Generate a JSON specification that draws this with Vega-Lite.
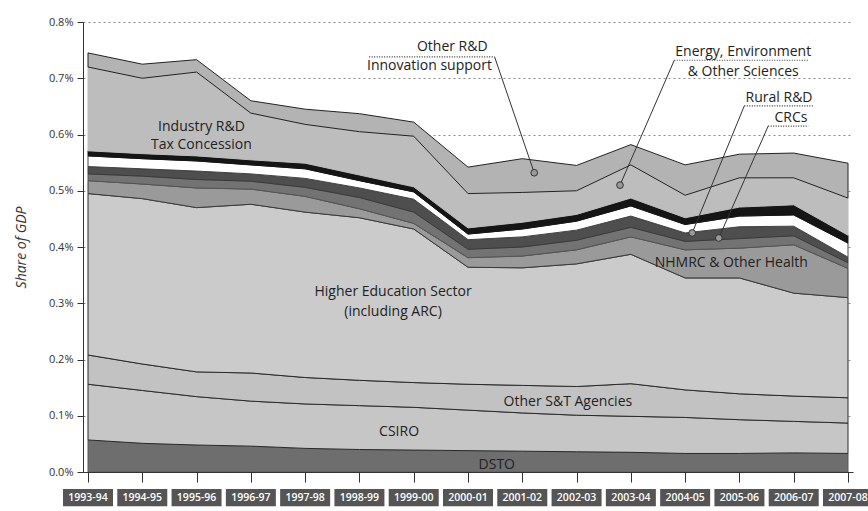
{
  "$schema": "https://vega.github.io/schema/vega-lite/v6.json",
  "width": 770,
  "height": 450,
  "autosize": "none",
  "padding": {"left": 83, "top": 22, "right": 15, "bottom": 39},
  "background": "white",
  "config": {"font": "Open Sans", "view": {"stroke": null}},
  "datasets": {
    "stacking": [
      {"series":"DSTO","stackOrder":1},
      {"series":"CSIRO","stackOrder":2},
      {"series":"Other S&T Agencies","stackOrder":3},
      {"series":"Higher Education Sector (including ARC)","stackOrder":4},
      {"series":"NHMRC & Other Health","stackOrder":5},
      {"series":"CRCs","stackOrder":6},
      {"series":"Rural R&D","stackOrder":7},
      {"series":"Other Science & Research","stackOrder":8},
      {"series":"Business Programs","stackOrder":9},
      {"series":"Energy, Environment & Other Sciences","stackOrder":10},
      {"series":"Industry R&D Tax Concession","stackOrder":11},
      {"series":"Other R&D & Innovation support","stackOrder":12}
    ],
    "funding": [
      {"start":1993,"year":"1993-94","series":"DSTO","value":0.057},
      {"start":1994,"year":"1994-95","series":"DSTO","value":0.051},
      {"start":1995,"year":"1995-96","series":"DSTO","value":0.048},
      {"start":1996,"year":"1996-97","series":"DSTO","value":0.046},
      {"start":1997,"year":"1997-98","series":"DSTO","value":0.042},
      {"start":1998,"year":"1998-99","series":"DSTO","value":0.040},
      {"start":1999,"year":"1999-00","series":"DSTO","value":0.039},
      {"start":2000,"year":"2000-01","series":"DSTO","value":0.038},
      {"start":2001,"year":"2001-02","series":"DSTO","value":0.037},
      {"start":2002,"year":"2002-03","series":"DSTO","value":0.036},
      {"start":2003,"year":"2003-04","series":"DSTO","value":0.035},
      {"start":2004,"year":"2004-05","series":"DSTO","value":0.033},
      {"start":2005,"year":"2005-06","series":"DSTO","value":0.033},
      {"start":2006,"year":"2006-07","series":"DSTO","value":0.034},
      {"start":2007,"year":"2007-08","series":"DSTO","value":0.033},
      {"start":1993,"year":"1993-94","series":"CSIRO","value":0.099},
      {"start":1994,"year":"1994-95","series":"CSIRO","value":0.094},
      {"start":1995,"year":"1995-96","series":"CSIRO","value":0.086},
      {"start":1996,"year":"1996-97","series":"CSIRO","value":0.080},
      {"start":1997,"year":"1997-98","series":"CSIRO","value":0.079},
      {"start":1998,"year":"1998-99","series":"CSIRO","value":0.078},
      {"start":1999,"year":"1999-00","series":"CSIRO","value":0.076},
      {"start":2000,"year":"2000-01","series":"CSIRO","value":0.072},
      {"start":2001,"year":"2001-02","series":"CSIRO","value":0.068},
      {"start":2002,"year":"2002-03","series":"CSIRO","value":0.065},
      {"start":2003,"year":"2003-04","series":"CSIRO","value":0.064},
      {"start":2004,"year":"2004-05","series":"CSIRO","value":0.064},
      {"start":2005,"year":"2005-06","series":"CSIRO","value":0.060},
      {"start":2006,"year":"2006-07","series":"CSIRO","value":0.056},
      {"start":2007,"year":"2007-08","series":"CSIRO","value":0.054},
      {"start":1993,"year":"1993-94","series":"Other S&T Agencies","value":0.052},
      {"start":1994,"year":"1994-95","series":"Other S&T Agencies","value":0.047},
      {"start":1995,"year":"1995-96","series":"Other S&T Agencies","value":0.044},
      {"start":1996,"year":"1996-97","series":"Other S&T Agencies","value":0.050},
      {"start":1997,"year":"1997-98","series":"Other S&T Agencies","value":0.047},
      {"start":1998,"year":"1998-99","series":"Other S&T Agencies","value":0.045},
      {"start":1999,"year":"1999-00","series":"Other S&T Agencies","value":0.044},
      {"start":2000,"year":"2000-01","series":"Other S&T Agencies","value":0.046},
      {"start":2001,"year":"2001-02","series":"Other S&T Agencies","value":0.049},
      {"start":2002,"year":"2002-03","series":"Other S&T Agencies","value":0.051},
      {"start":2003,"year":"2003-04","series":"Other S&T Agencies","value":0.058},
      {"start":2004,"year":"2004-05","series":"Other S&T Agencies","value":0.049},
      {"start":2005,"year":"2005-06","series":"Other S&T Agencies","value":0.046},
      {"start":2006,"year":"2006-07","series":"Other S&T Agencies","value":0.045},
      {"start":2007,"year":"2007-08","series":"Other S&T Agencies","value":0.045},
      {"start":1993,"year":"1993-94","series":"Higher Education Sector (including ARC)","value":0.287},
      {"start":1994,"year":"1994-95","series":"Higher Education Sector (including ARC)","value":0.294},
      {"start":1995,"year":"1995-96","series":"Higher Education Sector (including ARC)","value":0.292},
      {"start":1996,"year":"1996-97","series":"Higher Education Sector (including ARC)","value":0.300},
      {"start":1997,"year":"1997-98","series":"Higher Education Sector (including ARC)","value":0.294},
      {"start":1998,"year":"1998-99","series":"Higher Education Sector (including ARC)","value":0.289},
      {"start":1999,"year":"1999-00","series":"Higher Education Sector (including ARC)","value":0.273},
      {"start":2000,"year":"2000-01","series":"Higher Education Sector (including ARC)","value":0.208},
      {"start":2001,"year":"2001-02","series":"Higher Education Sector (including ARC)","value":0.209},
      {"start":2002,"year":"2002-03","series":"Higher Education Sector (including ARC)","value":0.218},
      {"start":2003,"year":"2003-04","series":"Higher Education Sector (including ARC)","value":0.230},
      {"start":2004,"year":"2004-05","series":"Higher Education Sector (including ARC)","value":0.199},
      {"start":2005,"year":"2005-06","series":"Higher Education Sector (including ARC)","value":0.206},
      {"start":2006,"year":"2006-07","series":"Higher Education Sector (including ARC)","value":0.183},
      {"start":2007,"year":"2007-08","series":"Higher Education Sector (including ARC)","value":0.178},
      {"start":1993,"year":"1993-94","series":"NHMRC & Other Health","value":0.023},
      {"start":1994,"year":"1994-95","series":"NHMRC & Other Health","value":0.026},
      {"start":1995,"year":"1995-96","series":"NHMRC & Other Health","value":0.035},
      {"start":1996,"year":"1996-97","series":"NHMRC & Other Health","value":0.027},
      {"start":1997,"year":"1997-98","series":"NHMRC & Other Health","value":0.028},
      {"start":1998,"year":"1998-99","series":"NHMRC & Other Health","value":0.016},
      {"start":1999,"year":"1999-00","series":"NHMRC & Other Health","value":0.010},
      {"start":2000,"year":"2000-01","series":"NHMRC & Other Health","value":0.017},
      {"start":2001,"year":"2001-02","series":"NHMRC & Other Health","value":0.021},
      {"start":2002,"year":"2002-03","series":"NHMRC & Other Health","value":0.025},
      {"start":2003,"year":"2003-04","series":"NHMRC & Other Health","value":0.031},
      {"start":2004,"year":"2004-05","series":"NHMRC & Other Health","value":0.050},
      {"start":2005,"year":"2005-06","series":"NHMRC & Other Health","value":0.053},
      {"start":2006,"year":"2006-07","series":"NHMRC & Other Health","value":0.086},
      {"start":2007,"year":"2007-08","series":"NHMRC & Other Health","value":0.052},
      {"start":1993,"year":"1993-94","series":"CRCs","value":0.012},
      {"start":1994,"year":"1994-95","series":"CRCs","value":0.014},
      {"start":1995,"year":"1995-96","series":"CRCs","value":0.015},
      {"start":1996,"year":"1996-97","series":"CRCs","value":0.014},
      {"start":1997,"year":"1997-98","series":"CRCs","value":0.016},
      {"start":1998,"year":"1998-99","series":"CRCs","value":0.020},
      {"start":1999,"year":"1999-00","series":"CRCs","value":0.020},
      {"start":2000,"year":"2000-01","series":"CRCs","value":0.015},
      {"start":2001,"year":"2001-02","series":"CRCs","value":0.016},
      {"start":2002,"year":"2002-03","series":"CRCs","value":0.017},
      {"start":2003,"year":"2003-04","series":"CRCs","value":0.017},
      {"start":2004,"year":"2004-05","series":"CRCs","value":0.015},
      {"start":2005,"year":"2005-06","series":"CRCs","value":0.017},
      {"start":2006,"year":"2006-07","series":"CRCs","value":0.016},
      {"start":2007,"year":"2007-08","series":"CRCs","value":0.010},
      {"start":1993,"year":"1993-94","series":"Rural R&D","value":0.013},
      {"start":1994,"year":"1994-95","series":"Rural R&D","value":0.013},
      {"start":1995,"year":"1995-96","series":"Rural R&D","value":0.015},
      {"start":1996,"year":"1996-97","series":"Rural R&D","value":0.013},
      {"start":1997,"year":"1997-98","series":"Rural R&D","value":0.016},
      {"start":1998,"year":"1998-99","series":"Rural R&D","value":0.017},
      {"start":1999,"year":"1999-00","series":"Rural R&D","value":0.023},
      {"start":2000,"year":"2000-01","series":"Rural R&D","value":0.017},
      {"start":2001,"year":"2001-02","series":"Rural R&D","value":0.018},
      {"start":2002,"year":"2002-03","series":"Rural R&D","value":0.018},
      {"start":2003,"year":"2003-04","series":"Rural R&D","value":0.020},
      {"start":2004,"year":"2004-05","series":"Rural R&D","value":0.015},
      {"start":2005,"year":"2005-06","series":"Rural R&D","value":0.021},
      {"start":2006,"year":"2006-07","series":"Rural R&D","value":0.017},
      {"start":2007,"year":"2007-08","series":"Rural R&D","value":0.010},
      {"start":1993,"year":"1993-94","series":"Other Science & Research","value":0.019},
      {"start":1994,"year":"1994-95","series":"Other Science & Research","value":0.018},
      {"start":1995,"year":"1995-96","series":"Other Science & Research","value":0.018},
      {"start":1996,"year":"1996-97","series":"Other Science & Research","value":0.016},
      {"start":1997,"year":"1997-98","series":"Other Science & Research","value":0.017},
      {"start":1998,"year":"1998-99","series":"Other Science & Research","value":0.013},
      {"start":1999,"year":"1999-00","series":"Other Science & Research","value":0.013},
      {"start":2000,"year":"2000-01","series":"Other Science & Research","value":0.010},
      {"start":2001,"year":"2001-02","series":"Other Science & Research","value":0.014},
      {"start":2002,"year":"2002-03","series":"Other Science & Research","value":0.016},
      {"start":2003,"year":"2003-04","series":"Other Science & Research","value":0.018},
      {"start":2004,"year":"2004-05","series":"Other Science & Research","value":0.015},
      {"start":2005,"year":"2005-06","series":"Other Science & Research","value":0.019},
      {"start":2006,"year":"2006-07","series":"Other Science & Research","value":0.020},
      {"start":2007,"year":"2007-08","series":"Other Science & Research","value":0.025},
      {"start":1993,"year":"1993-94","series":"Business Programs","value":0.009},
      {"start":1994,"year":"1994-95","series":"Business Programs","value":0.009},
      {"start":1995,"year":"1995-96","series":"Business Programs","value":0.009},
      {"start":1996,"year":"1996-97","series":"Business Programs","value":0.009},
      {"start":1997,"year":"1997-98","series":"Business Programs","value":0.010},
      {"start":1998,"year":"1998-99","series":"Business Programs","value":0.010},
      {"start":1999,"year":"1999-00","series":"Business Programs","value":0.009},
      {"start":2000,"year":"2000-01","series":"Business Programs","value":0.011},
      {"start":2001,"year":"2001-02","series":"Business Programs","value":0.012},
      {"start":2002,"year":"2002-03","series":"Business Programs","value":0.012},
      {"start":2003,"year":"2003-04","series":"Business Programs","value":0.014},
      {"start":2004,"year":"2004-05","series":"Business Programs","value":0.012},
      {"start":2005,"year":"2005-06","series":"Business Programs","value":0.016},
      {"start":2006,"year":"2006-07","series":"Business Programs","value":0.018},
      {"start":2007,"year":"2007-08","series":"Business Programs","value":0.014},
      {"start":1993,"year":"1993-94","series":"Energy, Environment & Other Sciences","value":0.020},
      {"start":1994,"year":"1994-95","series":"Energy, Environment & Other Sciences","value":0.020},
      {"start":1995,"year":"1995-96","series":"Energy, Environment & Other Sciences","value":0.020},
      {"start":1996,"year":"1996-97","series":"Energy, Environment & Other Sciences","value":0.020},
      {"start":1997,"year":"1997-98","series":"Energy, Environment & Other Sciences","value":0.021},
      {"start":1998,"year":"1998-99","series":"Energy, Environment & Other Sciences","value":0.022},
      {"start":1999,"year":"1999-00","series":"Energy, Environment & Other Sciences","value":0.023},
      {"start":2000,"year":"2000-01","series":"Energy, Environment & Other Sciences","value":0.024},
      {"start":2001,"year":"2001-02","series":"Energy, Environment & Other Sciences","value":0.025},
      {"start":2002,"year":"2002-03","series":"Energy, Environment & Other Sciences","value":0.026},
      {"start":2003,"year":"2003-04","series":"Energy, Environment & Other Sciences","value":0.028},
      {"start":2004,"year":"2004-05","series":"Energy, Environment & Other Sciences","value":0.028},
      {"start":2005,"year":"2005-06","series":"Energy, Environment & Other Sciences","value":0.029},
      {"start":2006,"year":"2006-07","series":"Energy, Environment & Other Sciences","value":0.030},
      {"start":2007,"year":"2007-08","series":"Energy, Environment & Other Sciences","value":0.030},
      {"start":1993,"year":"1993-94","series":"Industry R&D Tax Concession","value":0.129},
      {"start":1994,"year":"1994-95","series":"Industry R&D Tax Concession","value":0.114},
      {"start":1995,"year":"1995-96","series":"Industry R&D Tax Concession","value":0.129},
      {"start":1996,"year":"1996-97","series":"Industry R&D Tax Concession","value":0.063},
      {"start":1997,"year":"1997-98","series":"Industry R&D Tax Concession","value":0.048},
      {"start":1998,"year":"1998-99","series":"Industry R&D Tax Concession","value":0.055},
      {"start":1999,"year":"1999-00","series":"Industry R&D Tax Concession","value":0.067},
      {"start":2000,"year":"2000-01","series":"Industry R&D Tax Concession","value":0.037},
      {"start":2001,"year":"2001-02","series":"Industry R&D Tax Concession","value":0.028},
      {"start":2002,"year":"2002-03","series":"Industry R&D Tax Concession","value":0.016},
      {"start":2003,"year":"2003-04","series":"Industry R&D Tax Concession","value":0.031},
      {"start":2004,"year":"2004-05","series":"Industry R&D Tax Concession","value":0.012},
      {"start":2005,"year":"2005-06","series":"Industry R&D Tax Concession","value":0.023},
      {"start":2006,"year":"2006-07","series":"Industry R&D Tax Concession","value":0.018},
      {"start":2007,"year":"2007-08","series":"Industry R&D Tax Concession","value":0.036},
      {"start":1993,"year":"1993-94","series":"Other R&D & Innovation support","value":0.025},
      {"start":1994,"year":"1994-95","series":"Other R&D & Innovation support","value":0.025},
      {"start":1995,"year":"1995-96","series":"Other R&D & Innovation support","value":0.022},
      {"start":1996,"year":"1996-97","series":"Other R&D & Innovation support","value":0.022},
      {"start":1997,"year":"1997-98","series":"Other R&D & Innovation support","value":0.027},
      {"start":1998,"year":"1998-99","series":"Other R&D & Innovation support","value":0.032},
      {"start":1999,"year":"1999-00","series":"Other R&D & Innovation support","value":0.025},
      {"start":2000,"year":"2000-01","series":"Other R&D & Innovation support","value":0.047},
      {"start":2001,"year":"2001-02","series":"Other R&D & Innovation support","value":0.060},
      {"start":2002,"year":"2002-03","series":"Other R&D & Innovation support","value":0.045},
      {"start":2003,"year":"2003-04","series":"Other R&D & Innovation support","value":0.036},
      {"start":2004,"year":"2004-05","series":"Other R&D & Innovation support","value":0.054},
      {"start":2005,"year":"2005-06","series":"Other R&D & Innovation support","value":0.042},
      {"start":2006,"year":"2006-07","series":"Other R&D & Innovation support","value":0.044},
      {"start":2007,"year":"2007-08","series":"Other R&D & Innovation support","value":0.062}
    ],
    "labels": [
      {"label":"Industry R&D","x":1995.09,"y":0.613},
      {"label":"Tax Concession","x":1995.09,"y":0.581},
      {"label":"Higher Education Sector","x":1998.62,"y":0.320},
      {"label":"(including ARC)","x":1998.62,"y":0.284},
      {"label":"Other S&T Agencies","x":2001.84,"y":0.124},
      {"label":"CSIRO","x":1998.73,"y":0.071},
      {"label":"DSTO","x":2000.53,"y":0.012},
      {"label":"NHMRC & Other Health","x":2004.85,"y":0.372},
      {"label":"Other R&D","x":1999.71,"y":0.756},
      {"label":"Innovation support","x":1999.29,"y":0.722},
      {"label":"Energy, Environment","x":2005.07,"y":0.747},
      {"label":"& Other Sciences","x":2005.07,"y":0.711},
      {"label":"Rural R&D","x":2005.73,"y":0.665},
      {"label":"CRCs","x":2005.95,"y":0.629}
    ],
    "underlines": [
      {"x":1998.18,"x2":2000.49,"y":0.738},
      {"x":2003.80,"x2":2006.27,"y":0.732},
      {"x":2005.09,"x2":2006.35,"y":0.651},
      {"x":2005.53,"x2":2006.27,"y":0.615}
    ],
    "leaders": [
      {"x":2000.49,"y":0.738,"x2":2001.22,"y2":0.532},
      {"x":2003.80,"y":0.732,"x2":2002.80,"y2":0.510},
      {"x":2005.09,"y":0.651,"x2":2004.13,"y2":0.425},
      {"x":2005.53,"y":0.615,"x2":2004.62,"y2":0.416}
    ]
  },
  "layer": [
    {
      "data": {"name": "funding"},
      "transform": [
        {"lookup": "series", "from": {"data": {"name": "stacking"}, "key": "series", "fields": ["stackOrder"]}}
      ],
      "mark": {"type": "area", "strokeWidth": 1, "interpolate": "linear"},
      "encoding": {
        "x": {
          "field": "start", "type": "quantitative",
          "scale": {"domain": [1993, 2007], "nice": false, "zero": false},
          "axis": {
            "values": [1993,1994,1995,1996,1997,1998,1999,2000,2001,2002,2003,2004,2005,2006,2007],
            "labels": false, "grid": false, "title": null,
            "tickSize": 10, "tickColor": "#333", "domainColor": "#333", "zindex": 1
          }
        },
        "y": {
          "field": "value", "type": "quantitative", "stack": "zero",
          "scale": {"domain": [0, 0.8], "nice": false},
          "axis": {
            "values": [0,0.1,0.2,0.3,0.4,0.5,0.6,0.7,0.8],
            "labelExpr": "format(datum.value, '.1f') + '%'",
            "title": "Share of GDP", "titleFontStyle": "italic", "titleFontWeight": "normal",
            "titleFontSize": 14, "titleColor": "#333", "titlePadding": 20,
            "labelFontSize": 11, "labelColor": "#333", "labelPadding": 4,
            "tickSize": 6, "tickColor": "#333", "domainColor": "#333",
            "grid": true, "gridColor": "#888", "gridDash": [2, 3], "gridWidth": 1
          }
        },
        "order": {"field": "stackOrder", "type": "quantitative", "sort": "ascending"},
        "fill": {
          "field": "series", "type": "nominal", "legend": null,
          "scale": {
            "domain": ["DSTO","CSIRO","Other S&T Agencies","Higher Education Sector (including ARC)","NHMRC & Other Health","CRCs","Rural R&D","Other Science & Research","Business Programs","Energy, Environment & Other Sciences","Industry R&D Tax Concession","Other R&D & Innovation support"],
            "range": ["#6e6e6e","#c6c6c6","#c2c2c2","#cbcbcb","#9a9a9a","#737373","#4e4e4e","#ffffff","#151515","#bdbdbd","#bdbdbd","#b3b3b3"]
          }
        },
        "stroke": {
          "field": "series", "type": "nominal", "legend": null,
          "scale": {
            "domain": ["DSTO","CSIRO","Other S&T Agencies","Higher Education Sector (including ARC)","NHMRC & Other Health","CRCs","Rural R&D","Other Science & Research","Business Programs","Energy, Environment & Other Sciences","Industry R&D Tax Concession","Other R&D & Innovation support"],
            "range": ["#5a5a5a","#2a2a2a","#2a2a2a","#2a2a2a","#3a3a3a","#555555","#3a3a3a","#444444","#151515","#bdbdbd","#bdbdbd","#222222"]
          }
        }
      }
    },
    {
      "data": {"name": "funding"},
      "transform": [{"filter": "datum.series === 'DSTO'"}],
      "mark": {"type": "bar", "width": 50, "color": "#555555"},
      "encoding": {
        "x": {"field": "start", "type": "quantitative"},
        "y": {"datum": -0.030},
        "y2": {"datum": -0.061}
      }
    },
    {
      "data": {"name": "funding"},
      "transform": [{"filter": "datum.series === 'DSTO'"}],
      "mark": {"type": "text", "color": "white", "fontSize": 10.5, "fontWeight": 600, "baseline": "middle"},
      "encoding": {
        "x": {"field": "start", "type": "quantitative"},
        "y": {"datum": -0.0455},
        "text": {"field": "year"}
      }
    },
    {
      "data": {"name": "underlines"},
      "mark": {"type": "rule", "color": "#333", "strokeDash": [1, 1.5], "strokeWidth": 1.2},
      "encoding": {
        "x": {"field": "x", "type": "quantitative"},
        "x2": {"field": "x2"},
        "y": {"field": "y", "type": "quantitative"}
      }
    },
    {
      "data": {"name": "leaders"},
      "mark": {"type": "rule", "color": "#333", "strokeWidth": 1},
      "encoding": {
        "x": {"field": "x", "type": "quantitative"},
        "x2": {"field": "x2"},
        "y": {"field": "y", "type": "quantitative"},
        "y2": {"field": "y2"}
      }
    },
    {
      "data": {"name": "leaders"},
      "mark": {"type": "point", "filled": true, "fill": "#999", "stroke": "#333", "strokeWidth": 1, "size": 45, "opacity": 1},
      "encoding": {
        "x": {"field": "x2", "type": "quantitative"},
        "y": {"field": "y2", "type": "quantitative"}
      }
    },
    {
      "data": {"name": "labels"},
      "mark": {"type": "text", "fontSize": 14, "color": "#222", "baseline": "middle", "align": "center"},
      "encoding": {
        "x": {"field": "x", "type": "quantitative"},
        "y": {"field": "y", "type": "quantitative"},
        "text": {"field": "label"}
      }
    },
    {
      "mark": {"type": "rule", "color": "#333", "strokeWidth": 1.5},
      "encoding": {
        "x": {"datum": 2007},
        "y": {"datum": 0},
        "y2": {"datum": 0.79}
      }
    }
  ]
}
